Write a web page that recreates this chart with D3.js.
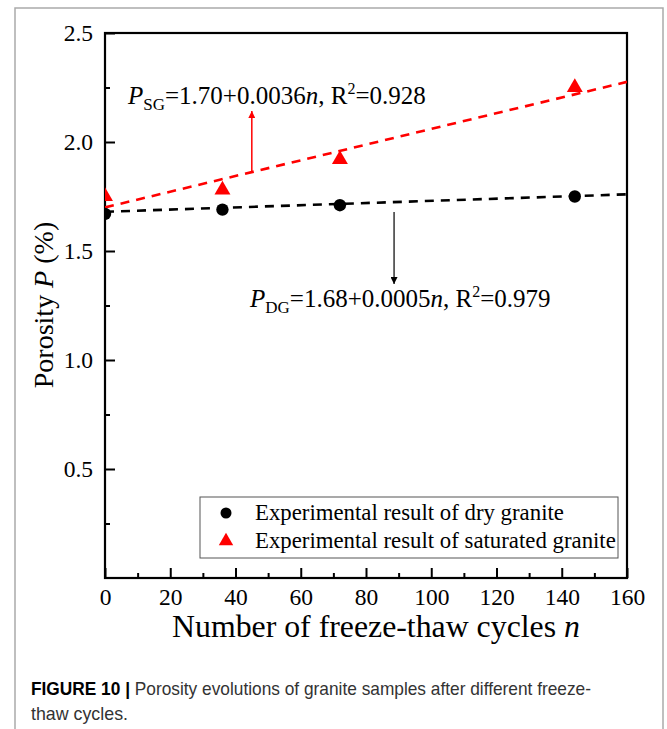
<!DOCTYPE html>
<html><head><meta charset="utf-8">
<script src="https://cdn.jsdelivr.net/npm/d3@7"></script>
<style>body{margin:0;background:#fff}svg{display:block}</style>
</head><body>
<script>
const cycles = [0, 36, 72, 144];
const dryPorosity = [1.67, 1.69, 1.71, 1.75];
const satPorosity = [1.75, 1.78, 1.92, 2.25];
const dryFit = {a: 1.68, b: 0.0005};
const satFit = {a: 1.70, b: 0.0036};
const xTicks = [0, 20, 40, 60, 80, 100, 120, 140, 160];
const yTicks = [0.5, 1.0, 1.5, 2.0, 2.5];
const legendLabels = ["Experimental result of dry granite", "Experimental result of saturated granite"];

const W = 667, H = 729;
const svg = d3.select("body").append("svg").attr("width", W).attr("height", H);
svg.append("rect").attr("width", W).attr("height", H).attr("fill", "#fff");
// outer frame
svg.append("rect").attr("x", 15).attr("y", 8).attr("width", 648).attr("height", 800)
  .attr("fill", "none").attr("stroke", "#aaa").attr("stroke-width", 1.5);

const L = 105, R = 627, T = 33, B = 578;
const x = d3.scaleLinear().domain([0, 160]).range([L, R]);
const y = d3.scaleLinear().domain([0, 2.5]).range([B, T]);
const serif = "'Liberation Serif','Times New Roman',serif";

// clip
svg.append("clipPath").attr("id", "clip").append("rect")
  .attr("x", L).attr("y", T).attr("width", R - L).attr("height", B - T);

// minor ticks
const xMinor = d3.axisBottom(x).tickValues(d3.range(10, 160, 20)).tickSize(-5).tickFormat("");
const yMinor = d3.axisLeft(y).tickValues(d3.range(0.25, 2.5, 0.5)).tickSize(-5).tickFormat("");
svg.append("g").attr("transform", `translate(0,${B})`).call(xMinor).call(g => g.select(".domain").remove())
  .selectAll("line").attr("stroke-width", 2);
svg.append("g").attr("transform", `translate(${L},0)`).call(yMinor).call(g => g.select(".domain").remove())
  .selectAll("line").attr("stroke-width", 2);

const xAxis = d3.axisBottom(x).tickValues(xTicks).tickSizeInner(-10).tickSizeOuter(0).tickPadding(10).tickFormat(d3.format("d"));
const yAxis = d3.axisLeft(y).tickValues(yTicks).tickSizeInner(-10).tickSizeOuter(0).tickPadding(12).tickFormat(d3.format(".1f"));
const gx = svg.append("g").attr("transform", `translate(0,${B})`).call(xAxis);
const gy = svg.append("g").attr("transform", `translate(${L},0)`).call(yAxis);
[gx, gy].forEach(g => {
  g.select(".domain").remove();
  g.selectAll("line").attr("stroke-width", 2);
  g.selectAll("text").attr("font-family", serif).attr("font-size", 23.5).attr("fill", "#000");
});
// frame box
svg.append("rect").attr("x", L).attr("y", T).attr("width", R - L).attr("height", B - T)
  .attr("fill", "none").attr("stroke", "#000").attr("stroke-width", 2.2);

const plot = svg.append("g").attr("clip-path", "url(#clip)");
// fit lines
const fitLine = (f, color) => plot.append("line")
  .attr("x1", x(0)).attr("y1", y(f.a)).attr("x2", x(160)).attr("y2", y(f.a + f.b * 160))
  .attr("stroke", color).attr("stroke-width", 2.6).attr("stroke-dasharray", "9,7");
fitLine(dryFit, "#000");
fitLine(satFit, "#ff0000");

const tri = d3.symbol().type(d3.symbolTriangle).size(110);
plot.selectAll(".dry").data(cycles).join("circle")
  .attr("cx", d => x(d)).attr("cy", (d, i) => y(dryPorosity[i])).attr("r", 6.2).attr("fill", "#000");
plot.selectAll(".sat").data(cycles).join("path")
  .attr("d", tri).attr("transform", (d, i) => `translate(${x(d)},${y(satPorosity[i])})`).attr("fill", "#ff0000");

// arrows
const defs = svg.append("defs");
[["ar", "#ff0000"], ["ab", "#000"]].forEach(([id, c]) => {
  defs.append("marker").attr("id", id).attr("viewBox", "0 0 10 10").attr("refX", 10).attr("refY", 5)
    .attr("markerWidth", 8).attr("markerHeight", 7).attr("markerUnits", "userSpaceOnUse").attr("orient", "auto")
    .append("path").attr("d", "M0,0L10,5L0,10Z").attr("fill", c);
});
svg.append("line").attr("x1", x(45)).attr("y1", 172).attr("x2", x(45)).attr("y2", 111)
  .attr("stroke", "#ff0000").attr("stroke-width", 1.5).attr("marker-end", "url(#ar)");
svg.append("line").attr("x1", x(88.6)).attr("y1", 212).attr("x2", x(88.6)).attr("y2", 284)
  .attr("stroke", "#000").attr("stroke-width", 1.2).attr("marker-end", "url(#ab)");

// equation annotations
function eq(xp, yp, sub, body, r2) {
  const t = svg.append("text").attr("x", xp).attr("y", yp).attr("font-family", serif).attr("font-size", 25).attr("fill", "#000");
  t.append("tspan").attr("font-style", "italic").text("P");
  t.append("tspan").attr("font-size", 17).attr("dy", 6).text(sub);
  t.append("tspan").attr("dy", -6).text("=" + body);
  t.append("tspan").attr("font-style", "italic").text("n");
  t.append("tspan").text(", R");
  t.append("tspan").attr("font-size", 16).attr("dy", -10).text("2");
  t.append("tspan").attr("dy", 10).text("=" + r2);
}
eq(128, 104, "SG", "1.70+0.0036", "0.928");
eq(250, 307, "DG", "1.68+0.0005", "0.979");

// legend
svg.append("rect").attr("x", 200).attr("y", 497).attr("width", 418).attr("height", 61)
  .attr("fill", "#fff").attr("stroke", "#555").attr("stroke-width", 1);
svg.append("circle").attr("cx", 226).attr("cy", 513).attr("r", 5.5).attr("fill", "#000");
svg.append("path").attr("d", d3.symbol().type(d3.symbolTriangle).size(90)).attr("transform", "translate(226,541)").attr("fill", "#ff0000");
legendLabels.forEach((l, i) => svg.append("text").attr("x", 255).attr("y", 520 + i * 28)
  .attr("font-family", serif).attr("font-size", 22.8).attr("fill", "#000").text(l));

// axis titles
const xt = svg.append("text").attr("x", 376).attr("y", 637).attr("text-anchor", "middle")
  .attr("font-family", serif).attr("font-size", 31.8).attr("fill", "#000");
xt.append("tspan").text("Number of freeze-thaw cycles ");
xt.append("tspan").attr("font-style", "italic").text("n");
const yt = svg.append("text").attr("transform", "translate(53,305) rotate(-90)").attr("text-anchor", "middle")
  .attr("font-family", serif).attr("font-size", 28).attr("fill", "#000");
yt.append("tspan").text("Porosity ");
yt.append("tspan").attr("font-style", "italic").text("P");
yt.append("tspan").text(" (%)");

// caption
const sans = "'Liberation Sans',Arial,sans-serif";
const c1 = svg.append("text").attr("x", 31).attr("y", 695).attr("font-family", sans).attr("font-size", 18.5).attr("fill", "#333")
  .attr("textLength", 560).attr("lengthAdjust", "spacingAndGlyphs");
c1.append("tspan").attr("font-weight", "bold").attr("fill", "#000").text("FIGURE 10 | ");
c1.append("tspan").text("Porosity evolutions of granite samples after different freeze-");
svg.append("text").attr("x", 31).attr("y", 720).attr("font-family", sans).attr("font-size", 18.5).attr("fill", "#333")
  .attr("textLength", 97).attr("lengthAdjust", "spacingAndGlyphs").text("thaw  cycles.");
</script>
</body></html>
